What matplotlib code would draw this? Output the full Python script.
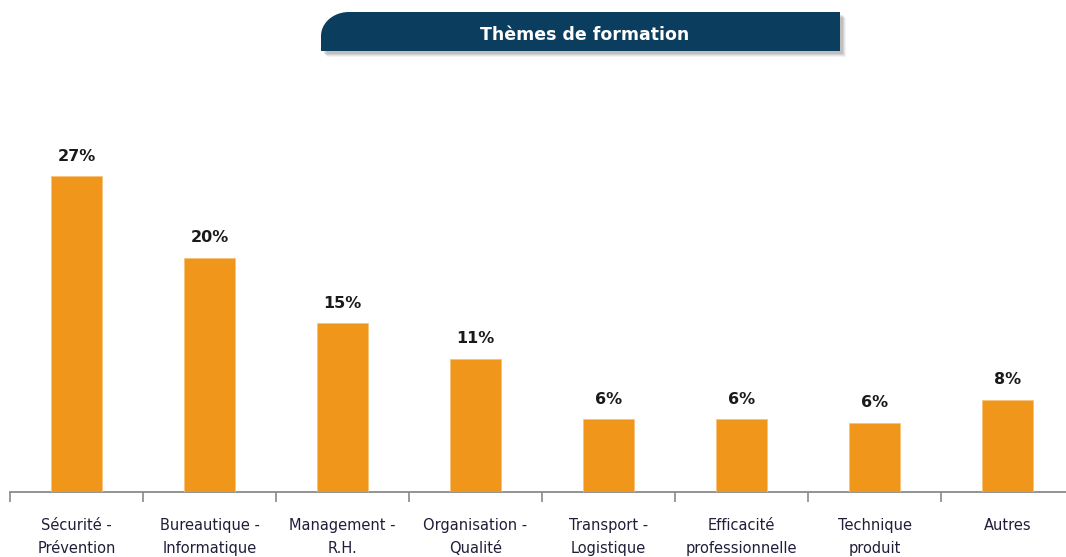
import numpy as np
import matplotlib
matplotlib.use("Agg")
import matplotlib.pyplot as plt
from matplotlib.patches import Polygon

categories = ["Sécurité -\nPrévention", "Bureautique -\nInformatique", "Management -\nR.H.",
              "Organisation -\nQualité", "Transport -\nLogistique", "Efficacité\nprofessionnelle",
              "Technique\nproduit", "Autres"]
values = [27, 20, 14.4, 11.4, 6.2, 6.2, 5.9, 7.9]
value_labels = ["27%", "20%", "15%", "11%", "6%", "6%", "6%", "8%"]
title = "Thèmes de formation"

W, H = 1066, 557
fig = plt.figure(figsize=(W / 100, H / 100), dpi=100)
plt.rcParams["font.family"] = ["DejaVu Sans"]

# axes: baseline at y=492px, category boundaries from x=10px, 133px wide
ax = fig.add_axes([10 / W, 65 / H, 1064 / W, 392 / H])
x = np.arange(len(categories))
ax.bar(x, values, width=0.38, color="#F0961A", edgecolor="#F6C27A", linewidth=0.6, zorder=3)
for xi, v, lab in zip(x, values, value_labels):
    ax.annotate(lab, (xi, v), xytext=(0, 9), textcoords="offset points",
                ha="center", va="bottom", fontsize=11.5, fontweight="bold", color="#1a1a1a")

ax.set_xlim(-0.5, len(categories) - 0.5)
ax.set_ylim(0, 33.5)
for s in ["top", "right", "left"]:
    ax.spines[s].set_visible(False)
ax.spines["bottom"].set_color("#8a8a8a")
ax.spines["bottom"].set_linewidth(1.3)
ax.set_yticks([])
ax.set_xticks(x)
ax.set_xticklabels(categories, fontsize=10.5, color="#1f1f3a", linespacing=1.6)
ax.tick_params(axis="x", which="major", length=0, pad=19)
ax.set_xticks(np.arange(-0.5, len(categories)), minor=True)
ax.tick_params(axis="x", which="minor", length=7, width=1.2, color="#8a8a8a", direction="out")

# title banner with rounded top-left corner and soft shadow
def banner_pts(x0, x1, y0, y1, rx, ry, dx=0, dy=0):
    t = np.linspace(np.pi, np.pi / 2, 24)
    arc = [(x0 + rx + rx * np.cos(a) + dx, y0 + ry - ry * np.sin(a) + dy) for a in t]
    pts = [(x0 + dx, y1 + dy)] + arc + [(x1 + dx, y0 + dy), (x1 + dx, y1 + dy)]
    return [(px / W, 1 - py / H) for px, py in pts]

for k, a in [(6, 0.07), (5, 0.09), (4, 0.12), (3, 0.15)]:
    fig.add_artist(Polygon(banner_pts(321, 840, 12, 51, 28, 24, dx=k, dy=k), closed=True,
                           transform=fig.transFigure, facecolor="#555555", alpha=a, edgecolor="none"))
fig.add_artist(Polygon(banner_pts(321, 840, 12, 51, 28, 24), closed=True,
                       transform=fig.transFigure, facecolor="#0B3D5E", edgecolor="none"))
fig.text(585 / W, 1 - 35 / H, title, ha="center", va="center", color="white",
         fontsize=12.5, fontweight="bold")

fig.savefig("out.png", dpi=100)
